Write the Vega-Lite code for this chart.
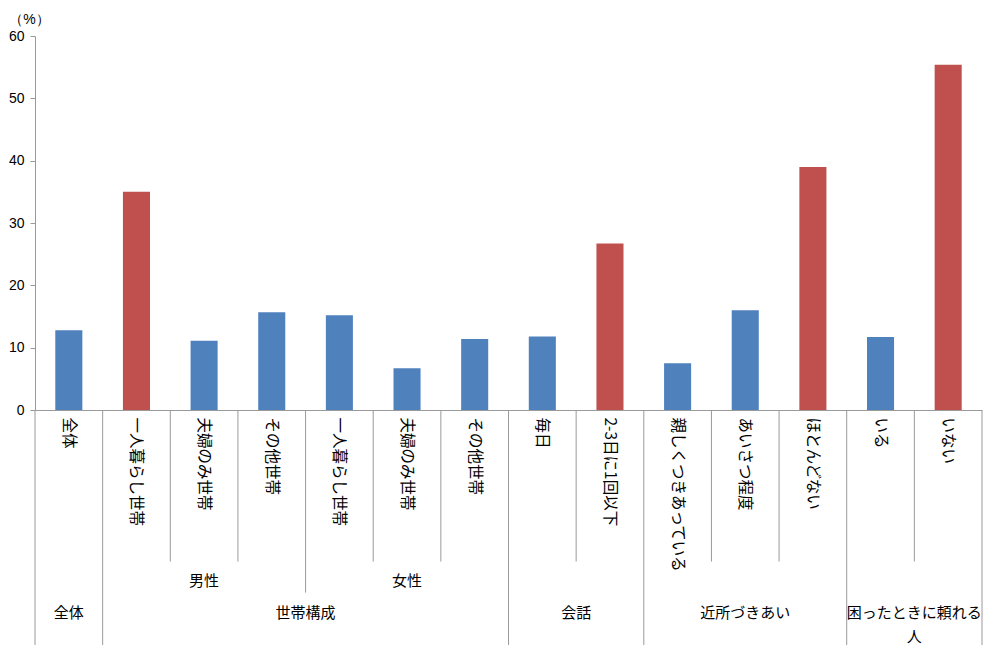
{
  "$schema": "https://vega.github.io/schema/vega-lite/v6.json",
  "background": "white",
  "padding": {"left": 8, "top": 12, "right": 0, "bottom": 0},
  "bounds": "flush",
  "spacing": 0,
  "config": {"font": "Noto Sans CJK JP", "view": {"stroke": null}},
  "datasets": {
    "cats": [
      {"i": 0, "label": "全体", "value": 12.8, "hl": false},
      {"i": 1, "label": "一人暮らし世帯", "value": 35.0, "hl": true},
      {"i": 2, "label": "夫婦のみ世帯", "value": 11.1, "hl": false},
      {"i": 3, "label": "その他世帯", "value": 15.7, "hl": false},
      {"i": 4, "label": "一人暮らし世帯", "value": 15.2, "hl": false},
      {"i": 5, "label": "夫婦のみ世帯", "value": 6.7, "hl": false},
      {"i": 6, "label": "その他世帯", "value": 11.4, "hl": false},
      {"i": 7, "label": "毎日", "value": 11.8, "hl": false},
      {"i": 8, "label": "2-3日に1回以下", "value": 26.7, "hl": true},
      {"i": 9, "label": "親しくつきあっている", "value": 7.5, "hl": false},
      {"i": 10, "label": "あいさつ程度", "value": 16.0, "hl": false},
      {"i": 11, "label": "ほとんどない", "value": 39.0, "hl": true},
      {"i": 12, "label": "いる", "value": 11.7, "hl": false},
      {"i": 13, "label": "いない", "value": 55.4, "hl": true}
    ],
    "seps": [
      {"i": 0, "depth": 100},
      {"i": 1, "depth": 100},
      {"i": 2, "depth": 64.5},
      {"i": 3, "depth": 64.5},
      {"i": 4, "depth": 77.7},
      {"i": 5, "depth": 64.5},
      {"i": 6, "depth": 64.5},
      {"i": 7, "depth": 100},
      {"i": 8, "depth": 64.5},
      {"i": 9, "depth": 100},
      {"i": 10, "depth": 64.5},
      {"i": 11, "depth": 64.5},
      {"i": 12, "depth": 100},
      {"i": 13, "depth": 64.5}
    ],
    "sepEnd": [{"i": 13, "depth": 100}],
    "sub": [
      {"i": 2, "label": "男性"},
      {"i": 5, "label": "女性"}
    ],
    "groupsCenter": [
      {"i": 0, "label": "全体"},
      {"i": 10, "label": "近所づきあい"}
    ],
    "groupsEdge": [
      {"i": 4, "label": "世帯構成"},
      {"i": 8, "label": "会話"},
      {"i": 13, "label": "困ったときに頼れる\n人"}
    ]
  },
  "vconcat": [
    {
      "width": 947,
      "height": 374,
      "data": {"name": "cats"},
      "mark": {"type": "bar", "width": {"band": 0.4}},
      "encoding": {
        "x": {
          "field": "i", "type": "ordinal",
          "scale": {"domain": [0,1,2,3,4,5,6,7,8,9,10,11,12,13], "paddingInner": 0, "paddingOuter": 0},
          "axis": {"labels": false, "ticks": false, "title": null, "domainColor": "#9a9a9a", "domainWidth": 1}
        },
        "y": {
          "field": "value", "type": "quantitative",
          "scale": {"domain": [0, 60], "nice": false},
          "axis": {
            "values": [0, 10, 20, 30, 40, 50, 60],
            "grid": false,
            "domainColor": "#9a9a9a",
            "tickColor": "#9a9a9a",
            "tickSize": 5,
            "labelPadding": 6,
            "labelFontSize": 14,
            "labelColor": "#000000",
            "labelFont": "Liberation Sans",
            "title": "（%）",
            "titleFont": "Liberation Sans",
            "titleAngle": 0,
            "titleFontSize": 14,
            "titleFontWeight": "normal",
            "titleColor": "#000000",
            "titleAlign": "center",
            "titleBaseline": "middle",
            "titleX": -6,
            "titleY": -17
          }
        },
        "color": {
          "condition": {"test": "datum.hl", "value": "#C0504D"},
          "value": "#4F81BD"
        }
      }
    },
    {
      "width": 947,
      "height": 235,
      "encoding": {
        "x": {"field": "i", "type": "ordinal",
              "scale": {"domain": [0,1,2,3,4,5,6,7,8,9,10,11,12,13], "paddingInner": 0, "paddingOuter": 0}, "axis": null}
      },
      "layer": [
        {
          "data": {"name": "seps"},
          "mark": {"type": "rule", "color": "#9a9a9a", "strokeWidth": 1},
          "encoding": {
            "x": {"field": "i", "type": "ordinal", "bandPosition": 0, "axis": null},
            "y": {"field": "depth", "type": "quantitative", "scale": {"domain": [0, 100], "reverse": true, "nice": false}, "axis": null},
            "y2": {"datum": 0}
          }
        },
        {
          "data": {"name": "sepEnd"},
          "mark": {"type": "rule", "color": "#9a9a9a", "strokeWidth": 1},
          "encoding": {
            "x": {"field": "i", "type": "ordinal", "bandPosition": 1, "axis": null},
            "y": {"field": "depth", "type": "quantitative", "axis": null},
            "y2": {"datum": 0}
          }
        },
        {
          "data": {"name": "cats"},
          "mark": {"type": "text", "angle": 90, "align": "left", "baseline": "middle", "fontSize": 15.5, "color": "#000000"},
          "encoding": {
            "y": {"datum": 3.2, "type": "quantitative", "axis": null},
            "text": {"field": "label", "type": "nominal"}
          }
        },
        {
          "data": {"name": "sub"},
          "mark": {"type": "text", "align": "center", "baseline": "top", "fontSize": 15, "color": "#000000"},
          "encoding": {
            "y": {"datum": 69.8, "type": "quantitative", "axis": null},
            "text": {"field": "label", "type": "nominal"}
          }
        },
        {
          "data": {"name": "groupsCenter"},
          "mark": {"type": "text", "align": "center", "baseline": "top", "fontSize": 15, "color": "#000000"},
          "encoding": {
            "y": {"datum": 83.5, "type": "quantitative", "axis": null},
            "text": {"field": "label", "type": "nominal"}
          }
        },
        {
          "data": {"name": "groupsEdge"},
          "mark": {"type": "text", "align": "center", "baseline": "top", "fontSize": 15, "color": "#000000", "lineBreak": "\n", "lineHeight": 24},
          "encoding": {
            "x": {"field": "i", "type": "ordinal", "bandPosition": 0, "axis": null},
            "y": {"datum": 83.5, "type": "quantitative", "axis": null},
            "text": {"field": "label", "type": "nominal"}
          }
        }
      ]
    }
  ]
}
